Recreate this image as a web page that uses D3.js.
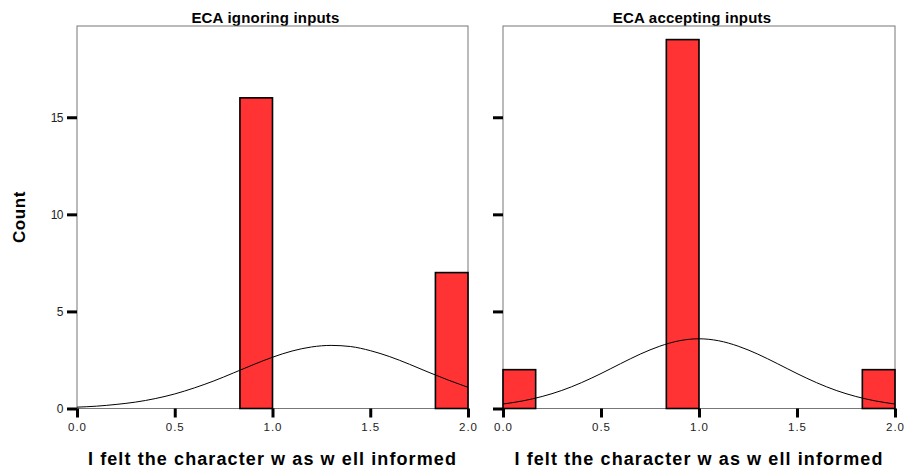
<!DOCTYPE html>
<html>
<head>
<meta charset="utf-8">
<script src="https://cdn.jsdelivr.net/npm/d3@7"></script>
<style>
  body { margin: 0; background: #fff; }
  svg { font-family: "Liberation Sans", Arial, sans-serif; }
</style>
</head>
<body>
<div id="chart"></div>
<script>
// histogram bins (right edge of each bin, bin width 1/6)
const binWidth = 1 / 6;
const ignoringBins = [1.0, 2.0];
const ignoringCounts = [16, 7];
const acceptingBins = [1 / 6, 1.0, 2.0];
const acceptingCounts = [2, 19, 2];

// normal curve at 0.1 steps
const curveX = [0.0, 0.1, 0.2, 0.3, 0.4, 0.5, 0.6, 0.7, 0.8, 0.9, 1.0,
                1.1, 1.2, 1.3, 1.4, 1.5, 1.6, 1.7, 1.8, 1.9, 2.0];
const ignoringCurve = [0.07, 0.12, 0.21, 0.33, 0.51, 0.75, 1.06, 1.42, 1.83, 2.25, 2.64,
                       2.96, 3.17, 3.25, 3.19, 2.98, 2.67, 2.28, 1.86, 1.46, 1.09];
const acceptingCurve = [0.23, 0.39, 0.62, 0.93, 1.33, 1.80, 2.31, 2.80, 3.21, 3.49, 3.59,
                        3.49, 3.21, 2.80, 2.31, 1.80, 1.33, 0.93, 0.62, 0.39, 0.23];

const xTicks = [0, 0.5, 1.0, 1.5, 2.0];
const yTicks = [0, 5, 10, 15];

const panels = [
  {title: "ECA ignoring inputs", bins: ignoringBins, counts: ignoringCounts, curve: ignoringCurve, left: 77, right: 468, labels: true},
  {title: "ECA accepting inputs", bins: acceptingBins, counts: acceptingCounts, curve: acceptingCurve, left: 503, right: 895, labels: false}
];

const width = 905, height = 475;
const plotTop = 26, plotBottom = 408.5;

const svg = d3.select("#chart").append("svg")
    .attr("width", width)
    .attr("height", height);

const y = d3.scaleLinear().domain([0, 19.7]).range([plotBottom, plotTop]);

// y axis title
svg.append("text")
   .attr("transform", `translate(25,217) rotate(-90)`)
   .attr("text-anchor", "middle")
   .style("font-weight", "bold")
   .style("font-size", "17px")
   .style("letter-spacing", "0.6px")
   .text("Count");

panels.forEach(p => {
    const x = d3.scaleLinear().domain([0, 2]).range([p.left, p.right]);
    const g = svg.append("g");

    // title
    g.append("text")
     .attr("x", (p.left + p.right) / 2 - 7)
     .attr("y", 22.5)
     .attr("text-anchor", "middle")
     .style("font-weight", "bold")
     .style("font-size", "15px")
     .style("letter-spacing", "0.2px")
     .text(p.title);

    // frame
    g.append("rect")
     .attr("x", p.left)
     .attr("y", plotTop)
     .attr("width", p.right - p.left)
     .attr("height", plotBottom - plotTop)
     .attr("fill", "none")
     .attr("stroke", "#777")
     .attr("stroke-width", 1);

    // bars
    g.selectAll(".bar")
     .data(p.bins.map((b, i) => ({end: b, count: p.counts[i]})))
     .enter().append("rect")
     .attr("class", "bar")
     .attr("x", d => x(d.end - binWidth))
     .attr("y", d => y(d.count))
     .attr("width", d => x(d.end) - x(d.end - binWidth))
     .attr("height", d => y(0) - y(d.count))
     .attr("fill", "#ff3333")
     .attr("stroke", "#000")
     .attr("stroke-width", 1.6);

    // normal curve
    const line = d3.line()
        .x((d, i) => x(curveX[i]))
        .y(d => y(d))
        .curve(d3.curveMonotoneX);
    g.append("path")
     .datum(p.curve)
     .attr("d", line)
     .attr("fill", "none")
     .attr("stroke", "#000")
     .attr("stroke-width", 1);

    // y ticks
    const yAxis = d3.axisLeft(y).tickValues(yTicks).tickSize(10).tickPadding(4)
        .tickFormat(p.labels ? d3.format("d") : () => "");
    const ya = g.append("g").attr("transform", `translate(${p.left},0)`).call(yAxis);
    ya.select(".domain").remove();
    ya.selectAll(".tick line").attr("stroke", "#000").attr("stroke-width", 3);
    ya.selectAll(".tick text").attr("fill", "#222").style("font-size", "12px")
      .style("letter-spacing", "-0.5px").style("font-family", "'Liberation Sans', Arial, sans-serif");

    // x ticks
    const xAxis = d3.axisBottom(x).tickValues(xTicks).tickSize(9).tickPadding(5)
        .tickFormat(d3.format(".1f"));
    const xa = g.append("g").attr("transform", `translate(0,${plotBottom})`).call(xAxis);
    xa.select(".domain").remove();
    xa.selectAll(".tick line").attr("stroke", "#000").attr("stroke-width", 3);
    xa.selectAll(".tick text").attr("fill", "#222").style("font-size", "11.5px")
      .style("letter-spacing", "1px").style("font-family", "'Liberation Sans', Arial, sans-serif");

    // x axis title
    g.append("text")
     .attr("x", (p.left + p.right) / 2)
     .attr("y", 465)
     .attr("text-anchor", "middle")
     .style("font-weight", "bold")
     .style("font-size", "18px")
     .style("letter-spacing", "1.1px")
     .text("I felt the character w as w ell informed");
});
</script>
</body>
</html>
